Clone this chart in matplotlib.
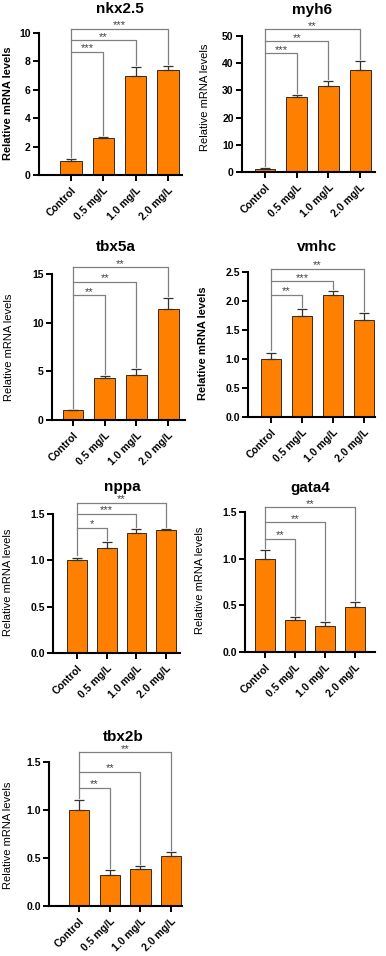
import matplotlib
matplotlib.use('Agg')
import matplotlib.pyplot as plt

plt.rcParams['font.family'] = ['Liberation Sans', 'DejaVu Sans']

# Данные
groups = ['Control', '0.5 mg/L', '1.0 mg/L', '2.0 mg/L']

nkx25_mean = [1.0, 2.6, 6.95, 7.4]
nkx25_err = [0.1, 0.07, 0.65, 0.25]
nkx25_sig = ['***', '**', '***']
nkx25_brk = [8.66, 9.48, 10.28]

myh6_mean = [1.0, 27.7, 31.5, 37.5]
myh6_err = [0.3, 0.5, 2.0, 3.3]
myh6_sig = ['***', '**', '**']
myh6_brk = [43.6, 48.0, 52.4]

tbx5a_mean = [1.0, 4.3, 4.67, 11.37]
tbx5a_err = [0.05, 0.22, 0.55, 1.15]
tbx5a_sig = ['**', '**', '**']
tbx5a_brk = [12.8, 14.2, 15.7]

vmhc_mean = [1.0, 1.74, 2.11, 1.68]
vmhc_err = [0.11, 0.12, 0.06, 0.11]
vmhc_sig = ['**', '***', '**']
vmhc_brk = [2.11, 2.34, 2.55]

nppa_mean = [1.0, 1.13, 1.30, 1.33]
nppa_err = [0.03, 0.07, 0.04, 0.01]
nppa_sig = ['*', '***', '**']
nppa_brk = [1.35, 1.50, 1.62]

gata4_mean = [1.0, 0.34, 0.28, 0.48]
gata4_err = [0.09, 0.035, 0.045, 0.06]
gata4_sig = ['**', '**', '**']
gata4_brk = [1.21, 1.39, 1.55]

tbx2b_mean = [1.0, 0.32, 0.39, 0.52]
tbx2b_err = [0.10, 0.05, 0.03, 0.04]
tbx2b_sig = ['**', '**', '**']
tbx2b_brk = [1.23, 1.40, 1.60]

W, H = 386, 956
fig = plt.figure(figsize=(W / 100, H / 100), dpi=100)

# name, mean, err, sig, brackets, yticks, fmt, layout (px): spine x, right x, top y, zero y, bar0 x, step, title xy, ylabel xy, bold ylabel
panels = [
    ('nkx2.5', nkx25_mean, nkx25_err, nkx25_sig, nkx25_brk, [0, 2, 4, 6, 8, 10], '%d',
     (39, 182, 33, 175, 71, 32.3), (120, 9), (8, 103), True),
    ('myh6', myh6_mean, myh6_err, myh6_sig, myh6_brk, [0, 10, 20, 30, 40, 50], '%d',
     (242, 375, 36, 172, 265, 31.7), (312, 10), (205, 97), False),
    ('tbx5a', tbx5a_mean, tbx5a_err, tbx5a_sig, tbx5a_brk, [0, 5, 10, 15], '%d',
     (52, 185, 274, 420, 73, 31.7), (116, 247), (9, 347), False),
    ('vmhc', vmhc_mean, vmhc_err, vmhc_sig, vmhc_brk, [0, 0.5, 1.0, 1.5, 2.0, 2.5], '%.1f',
     (248, 375, 272, 417, 271, 31.0), (317, 247), (203, 343), True),
    ('nppa', nppa_mean, nppa_err, nppa_sig, nppa_brk, [0, 0.5, 1.0, 1.5], '%.1f',
     (53, 180, 514, 653, 77, 29.7), (122, 487), (8, 582), False),
    ('gata4', gata4_mean, gata4_err, gata4_sig, gata4_brk, [0, 0.5, 1.0, 1.5], '%.1f',
     (245, 375, 512, 652, 265, 30.0), (310, 488), (200, 580), False),
    ('tbx2b', tbx2b_mean, tbx2b_err, tbx2b_sig, tbx2b_brk, [0, 0.5, 1.0, 1.5], '%.1f',
     (49, 182, 762, 906, 79, 30.7), (123, 737), (8, 835), False),
]

bar_color = '#FF8000'
for name, mean, err, sig, brk, yt, fmt, lay, tpos, lpos, lbold in panels:
    sx, rx, ty, zy, c0, step = lay
    ax = fig.add_axes([sx / W, 1 - zy / H, (rx - sx) / W, (zy - ty) / H])
    x = list(range(len(groups)))
    ax.bar(x, mean, width=0.66, color=bar_color, edgecolor='#3a2a1a', linewidth=0.7, zorder=2)
    ax.errorbar(x, mean, yerr=[[0] * len(err), err], fmt='none', ecolor='#333333',
                elinewidth=0.9, capsize=3.5, capthick=0.9, zorder=3)
    ax.set_xlim((sx - c0) / step, (rx - c0) / step)
    ax.set_ylim(0, yt[-1])
    ax.set_yticks(yt)
    ax.set_yticklabels([fmt % v for v in yt], fontweight='bold', fontsize=7.5)
    ax.set_xticks(x)
    ax.set_xticklabels(groups, rotation=45, ha='right', va='top', rotation_mode='anchor',
                       fontweight='bold', fontsize=7.5)
    ax.tick_params(axis='both', direction='out', length=4.5, width=1.4, pad=1.5)
    ax.tick_params(axis='x', pad=3)
    for s in ['top', 'right']:
        ax.spines[s].set_visible(False)
    for s in ['left', 'bottom']:
        ax.spines[s].set_linewidth(1.5)

    # скобки значимости
    ymax = yt[-1]
    gap = ymax * 0.015
    ax.plot([0, 0], [mean[0] + err[0] + gap, brk[-1]], color='#808080', lw=0.9, clip_on=False, zorder=1)
    for i, (lab, h) in enumerate(zip(sig, brk)):
        j = i + 1
        ax.plot([0, j, j], [h, h, mean[j] + err[j] + gap], color='#808080', lw=0.9,
                clip_on=False, zorder=1)
        ax.text(j / 2, h - ymax * 0.01, lab, ha='center', va='bottom', fontsize=8,
                color='#404040', clip_on=False)

    fig.text(tpos[0] / W, 1 - tpos[1] / H, name, ha='center', va='center',
             fontsize=11, fontweight='bold')
    fig.text(lpos[0] / W, 1 - lpos[1] / H, 'Relative mRNA levels', rotation=90,
             ha='center', va='center', fontsize=8, fontweight='bold' if lbold else 'normal')

plt.savefig('out.png', dpi=100)
